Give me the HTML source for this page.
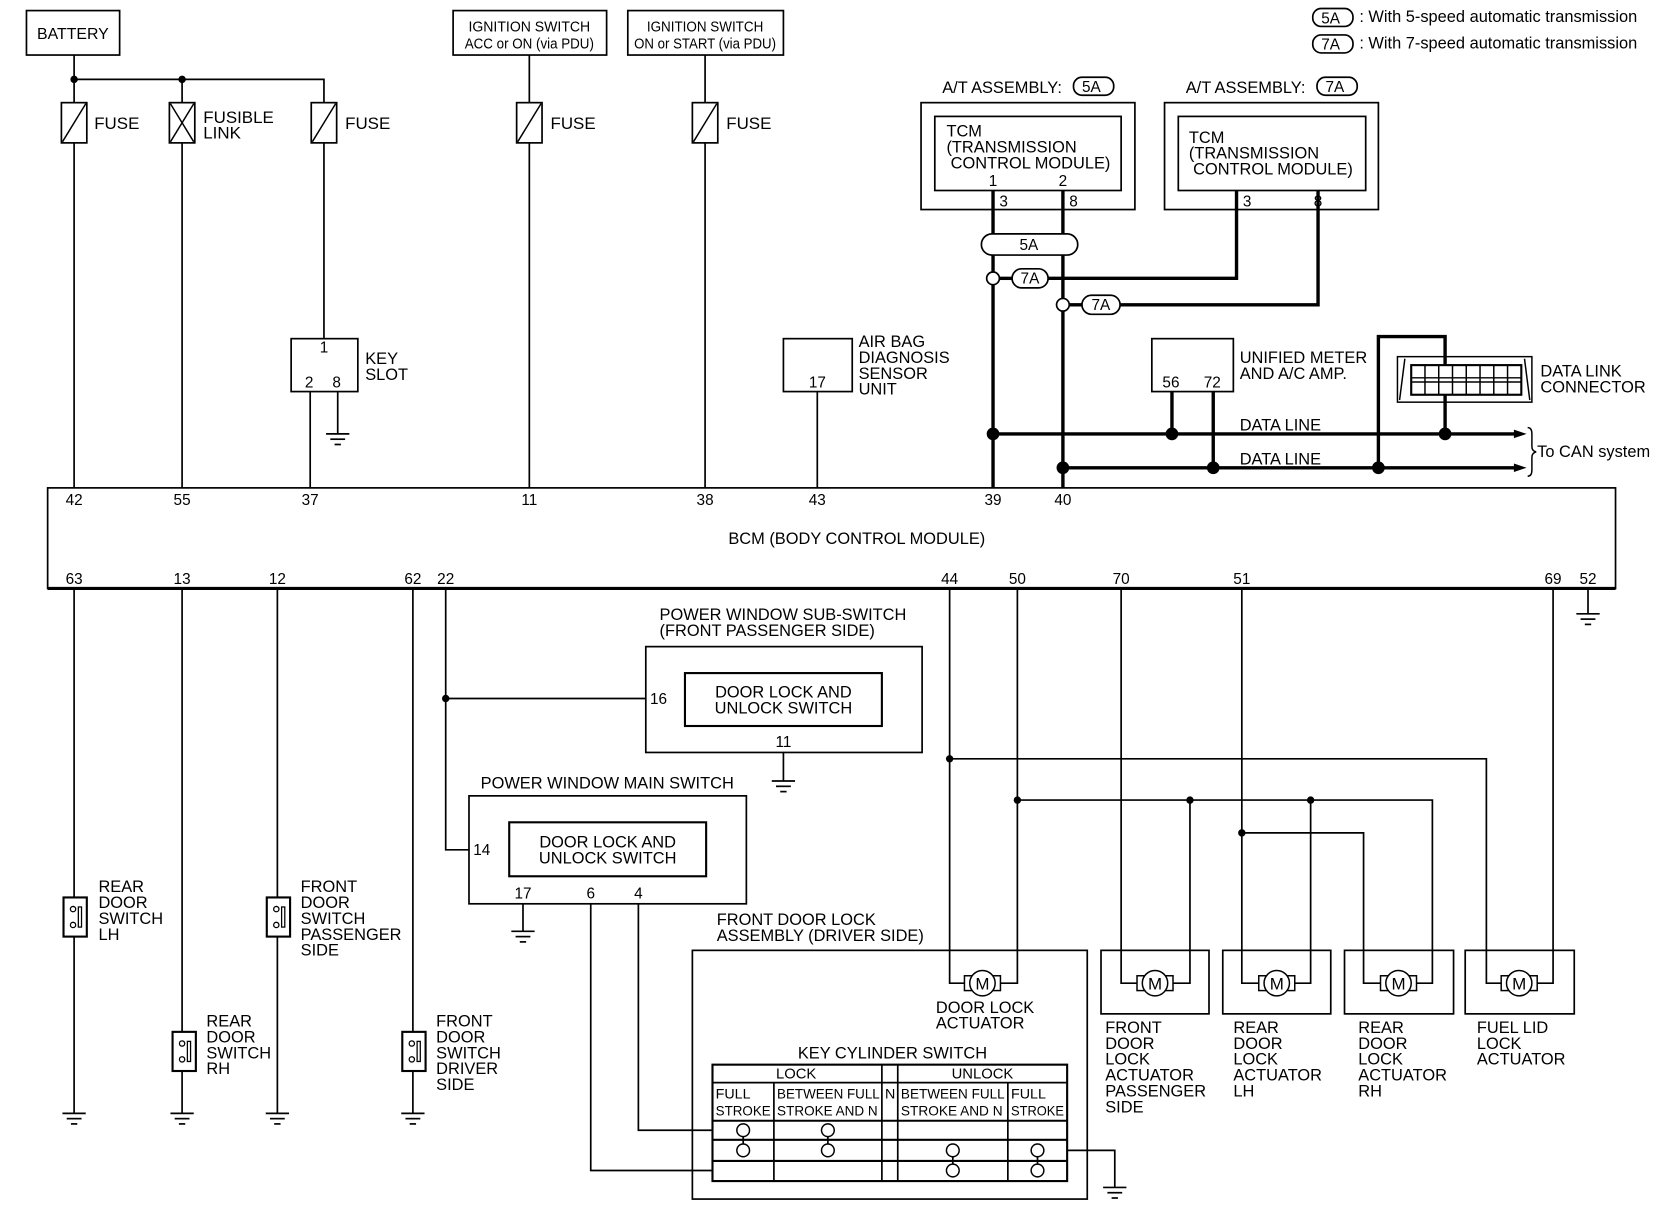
<!DOCTYPE html>
<html><head><meta charset="utf-8"><style>html,body{margin:0;padding:0;background:#fff}svg{display:block}</style></head>
<body>
<svg width="1660" height="1216" viewBox="0 0 1568 1149" preserveAspectRatio="none" xmlns="http://www.w3.org/2000/svg" font-family="Liberation Sans, sans-serif" font-size="15" fill="#000">
<defs>
<g id="fuse"><rect x="-12" y="0" width="24" height="38" fill="#fff" stroke="#000" stroke-width="1.6"/><line x1="-11" y1="37" x2="11" y2="1" stroke="#000" stroke-width="1.4"/></g>
<g id="gnd" stroke="#000" stroke-width="1.6"><line x1="-11" y1="0" x2="11" y2="0"/><line x1="-7" y1="5" x2="7" y2="5"/><line x1="-3" y1="10" x2="3" y2="10"/></g>
<g id="sw"><rect x="-11" y="0" width="22" height="37" fill="#fff" stroke="#000" stroke-width="2"/><circle cx="-2" cy="11" r="2.5" fill="#fff" stroke="#000" stroke-width="1.2"/><circle cx="-2" cy="26" r="2.5" fill="#fff" stroke="#000" stroke-width="1.2"/><rect x="3" y="9" width="3" height="19" fill="#fff" stroke="#000" stroke-width="1.2"/></g>
<g id="mot" stroke="#000" stroke-width="1.4" fill="#fff"><rect x="-17" y="-7" width="34" height="14"/><circle cx="0" cy="0" r="12"/><text x="0" y="6" font-size="16" text-anchor="middle" fill="#000" stroke="none">M</text></g>
</defs>
<g stroke="#000" stroke-width="1.6" fill="none">
<rect x="25" y="10" width="88" height="42"/>
<rect x="428" y="10" width="145" height="42"/>
<rect x="593" y="10" width="147" height="42"/>
<line x1="70" y1="52" x2="70" y2="461"/>
<polyline points="70,75 306,75 306,320"/>
<line x1="172" y1="75" x2="172" y2="461"/>
<line x1="500" y1="52" x2="500" y2="461"/>
<line x1="666" y1="52" x2="666" y2="461"/>
<rect x="275" y="320" width="63" height="50"/>
<line x1="293" y1="370" x2="293" y2="461"/>
<line x1="319" y1="370" x2="319" y2="410"/>
<rect x="740" y="320" width="65" height="50"/>
<line x1="772" y1="370" x2="772" y2="461"/>
<rect x="870" y="97" width="202" height="101"/>
<rect x="883" y="110" width="176" height="70"/>
<rect x="1100" y="97" width="202" height="101"/>
<rect x="1113" y="110" width="177" height="70"/>
<rect x="1088" y="320" width="77" height="50"/>
<rect x="45" y="461" width="1481" height="95"/>
</g>
<line x1="45" y1="556" x2="1526" y2="556" stroke="#000" stroke-width="3"/>
<g stroke="#000" stroke-width="3.2" fill="none">
<line x1="938" y1="180" x2="938" y2="461"/>
<line x1="1004" y1="180" x2="1004" y2="461"/>
<polyline points="990,263 1168,263 1168,180"/>
<polyline points="1058,288 1245,288 1245,180"/>
<line x1="944" y1="263" x2="956" y2="263"/>
<line x1="1010" y1="288" x2="1022" y2="288"/>
<line x1="938" y1="410" x2="1432" y2="410"/>
<line x1="1004" y1="442" x2="1432" y2="442"/>
<line x1="1107" y1="370" x2="1107" y2="410"/>
<line x1="1146" y1="370" x2="1146" y2="442"/>
<polyline points="1302,442 1302,318 1365,318 1365,345"/>
<line x1="1365" y1="373" x2="1365" y2="410"/>
</g>
<g fill="#000"><polygon points="1442,410 1430,406 1430,414"/><polygon points="1442,442 1430,438 1430,446"/>
<circle cx="938" cy="410" r="6"/><circle cx="1107" cy="410" r="6"/><circle cx="1365" cy="410" r="6"/>
<circle cx="1004" cy="442" r="6"/><circle cx="1146" cy="442" r="6"/><circle cx="1302" cy="442" r="6"/>
<circle cx="70" cy="75" r="3.5"/><circle cx="172" cy="75" r="3.5"/></g>
<g stroke="#000" stroke-width="1.6" fill="#fff">
<rect x="927" y="221" width="91" height="20" rx="10"/>
<rect x="956" y="254" width="34" height="18" rx="9"/>
<rect x="1022" y="279" width="36" height="18" rx="9"/>
<circle cx="938" cy="263" r="6"/><circle cx="1004" cy="288" r="6"/>
<rect x="1014" y="73" width="38" height="17" rx="8"/>
<rect x="1244" y="73" width="38" height="17" rx="8"/>
<rect x="1240" y="8" width="38" height="17" rx="8"/>
<rect x="1240" y="33" width="38" height="17" rx="8"/>
</g>
<g stroke="#000" stroke-width="1.4" fill="none">
<rect x="1320" y="337" width="127" height="43"/>
<line x1="1327" y1="339" x2="1322" y2="378"/><line x1="1440" y1="339" x2="1445" y2="378"/>
<rect x="1333" y="345" width="104" height="28" stroke-width="2"/>
<line x1="1333" y1="357" x2="1437" y2="357"/><line x1="1333" y1="361" x2="1437" y2="361"/>
<line x1="1346" y1="345" x2="1346" y2="373"/><line x1="1359" y1="345" x2="1359" y2="373"/><line x1="1372" y1="345" x2="1372" y2="373"/><line x1="1385" y1="345" x2="1385" y2="373"/><line x1="1398" y1="345" x2="1398" y2="373"/><line x1="1411" y1="345" x2="1411" y2="373"/><line x1="1424" y1="345" x2="1424" y2="373"/>
<path d="M1443,404 q4,0 4,6 v12 q0,4 4,5 q-4,1 -4,5 v12 q0,6 -4,6"/>
</g>
<use href="#fuse" x="70" y="97"/><use href="#fuse" x="306" y="97"/><use href="#fuse" x="500" y="97"/><use href="#fuse" x="666" y="97"/>
<g><rect x="160" y="97" width="24" height="38" fill="#fff" stroke="#000" stroke-width="1.6"/><line x1="161" y1="98" x2="183" y2="134" stroke="#000" stroke-width="1.4"/><line x1="183" y1="98" x2="161" y2="134" stroke="#000" stroke-width="1.4"/></g>
<use href="#gnd" x="319" y="410"/>
<g stroke="#000" stroke-width="1.6" fill="none">
<line x1="70" y1="556" x2="70" y2="1052"/>
<line x1="172" y1="556" x2="172" y2="1052"/>
<line x1="262" y1="556" x2="262" y2="1052"/>
<line x1="390" y1="556" x2="390" y2="1052"/>
<polyline points="421,556 421,803 443,803"/>
<line x1="421" y1="660" x2="610" y2="660"/>
<line x1="1500" y1="556" x2="1500" y2="580"/>
<rect x="610" y="611" width="261" height="100"/>
<rect x="647" y="636" width="186" height="50" stroke-width="2"/>
<line x1="740" y1="711" x2="740" y2="738"/>
<rect x="443" y="752" width="262" height="102"/>
<rect x="481" y="777" width="186" height="51" stroke-width="2"/>
<line x1="494" y1="854" x2="494" y2="880"/>
<polyline points="603,854 603,1068 673,1068"/>
<polyline points="558,854 558,1106 673,1106"/>
<polyline points="1008,1087 1053,1087 1053,1122"/>
<rect x="654" y="898" width="373" height="235"/>
<polyline points="897,556 897,929 911,929"/>
<polyline points="961,556 961,929 945,929"/>
<polyline points="897,717 1404,717 1404,929 1418,929"/>
<polyline points="961,756 1353,756 1353,929 1338,929"/>
<polyline points="1124,756 1124,929 1108,929"/>
<polyline points="1238,756 1238,929 1223,929"/>
<polyline points="1059,556 1059,929 1074,929"/>
<polyline points="1173,556 1173,929 1189,929"/>
<polyline points="1173,787 1288,787 1288,929 1304,929"/>
<polyline points="1467,556 1467,929 1452,929"/>
<rect x="1040" y="898" width="102" height="60"/>
<rect x="1155" y="898" width="102" height="60"/>
<rect x="1270" y="898" width="103" height="60"/>
<rect x="1384" y="898" width="103" height="60"/>
<rect x="673" y="1006" width="335" height="110" stroke-width="2"/>
<line x1="673" y1="1023" x2="1008" y2="1023"/>
<line x1="673" y1="1059" x2="1008" y2="1059" stroke-width="2"/>
<line x1="673" y1="1077" x2="1008" y2="1077" stroke-width="2"/>
<line x1="673" y1="1097" x2="1008" y2="1097" stroke-width="2"/>
<line x1="731" y1="1023" x2="731" y2="1116"/>
<line x1="833" y1="1006" x2="833" y2="1116"/>
<line x1="848" y1="1006" x2="848" y2="1116"/>
<line x1="952" y1="1023" x2="952" y2="1116"/>
<line x1="702" y1="1068" x2="702" y2="1087"/><line x1="782" y1="1068" x2="782" y2="1087"/>
<line x1="900" y1="1087" x2="900" y2="1106"/><line x1="980" y1="1087" x2="980" y2="1106"/>
</g>
<g stroke="#000" stroke-width="1.4" fill="#fff">
<circle cx="702" cy="1068" r="6"/><circle cx="702" cy="1087" r="6"/>
<circle cx="782" cy="1068" r="6"/><circle cx="782" cy="1087" r="6"/>
<circle cx="900" cy="1087" r="6"/><circle cx="900" cy="1106" r="6"/>
<circle cx="980" cy="1087" r="6"/><circle cx="980" cy="1106" r="6"/>
</g>
<g fill="#000"><circle cx="421" cy="660" r="3.5"/><circle cx="897" cy="717" r="3.5"/><circle cx="961" cy="756" r="3.5"/><circle cx="1124" cy="756" r="3.5"/><circle cx="1238" cy="756" r="3.5"/><circle cx="1173" cy="787" r="3.5"/></g>
<use href="#mot" x="928" y="929"/><use href="#mot" x="1091" y="929"/><use href="#mot" x="1206" y="929"/><use href="#mot" x="1321" y="929"/><use href="#mot" x="1435" y="929"/>
<use href="#sw" x="71" y="848"/><use href="#sw" x="174" y="975"/><use href="#sw" x="263" y="848"/><use href="#sw" x="391" y="975"/>
<use href="#gnd" x="70" y="1052"/><use href="#gnd" x="172" y="1052"/><use href="#gnd" x="262" y="1052"/><use href="#gnd" x="390" y="1052"/>
<use href="#gnd" x="1500" y="580"/><use href="#gnd" x="740" y="738"/><use href="#gnd" x="494" y="880"/><use href="#gnd" x="1053" y="1122"/>
<text x="35" y="37">BATTERY</text>
<g font-size="14" text-anchor="middle"><text x="500" y="30" textLength="115" lengthAdjust="spacingAndGlyphs">IGNITION SWITCH</text><text x="500" y="46" textLength="122" lengthAdjust="spacingAndGlyphs">ACC or ON (via PDU)</text>
<text x="666" y="30" textLength="110" lengthAdjust="spacingAndGlyphs">IGNITION SWITCH</text><text x="666" y="46" textLength="134" lengthAdjust="spacingAndGlyphs">ON or START (via PDU)</text></g>
<g font-size="16"><text x="89" y="122">FUSE</text><text x="192" y="116">FUSIBLE</text><text x="192" y="131">LINK</text><text x="326" y="122">FUSE</text><text x="520" y="122">FUSE</text><text x="686" y="122">FUSE</text></g>
<g font-size="15.5"><text x="345" y="344">KEY</text><text x="345" y="359">SLOT</text>
<text x="811" y="328">AIR BAG</text><text x="811" y="343">DIAGNOSIS</text><text x="811" y="358">SENSOR</text><text x="811" y="373">UNIT</text>
<text x="890" y="88">A/T ASSEMBLY:</text><text x="1120" y="88">A/T ASSEMBLY:</text>
<text x="1284" y="21">: With 5-speed automatic transmission</text><text x="1284" y="46">: With 7-speed automatic transmission</text>
<text x="894" y="129">TCM</text><text x="894" y="144">(TRANSMISSION</text><text x="898" y="159">CONTROL MODULE)</text>
<text x="1123" y="135">TCM</text><text x="1123" y="150">(TRANSMISSION</text><text x="1127" y="165">CONTROL MODULE)</text>
<text x="1171" y="343">UNIFIED METER</text><text x="1171" y="358">AND A/C AMP.</text>
<text x="1455" y="356">DATA LINK</text><text x="1455" y="371">CONNECTOR</text>
<text x="1171" y="407">DATA LINE</text><text x="1171" y="439">DATA LINE</text><text x="1452" y="432">To CAN system</text>
<text x="688" y="514">BCM (BODY CONTROL MODULE)</text>
</g>
<g font-size="14.5"><text x="302" y="333">1</text><text x="288" y="366">2</text><text x="314" y="366">8</text><text x="764" y="366">17</text>
<text x="1022" y="87">5A</text><text x="1252" y="87">7A</text><text x="1248" y="22">5A</text><text x="1248" y="47">7A</text>
<text x="934" y="176">1</text><text x="1000" y="176">2</text><text x="944" y="195">3</text><text x="1010" y="195">8</text><text x="1174" y="195">3</text><text x="1241" y="195">8</text>
<text x="963" y="236">5A</text><text x="964" y="268">7A</text><text x="1031" y="293">7A</text>
<text x="1098" y="366">56</text><text x="1137" y="366">72</text></g>
<g font-size="14.5" text-anchor="middle">
<text x="70" y="477">42</text><text x="172" y="477">55</text><text x="293" y="477">37</text><text x="500" y="477">11</text><text x="666" y="477">38</text><text x="772" y="477">43</text><text x="938" y="477">39</text><text x="1004" y="477">40</text>
<text x="70" y="552">63</text><text x="172" y="552">13</text><text x="262" y="552">12</text><text x="390" y="552">62</text><text x="421" y="552">22</text><text x="897" y="552">44</text><text x="961" y="552">50</text><text x="1059" y="552">70</text><text x="1173" y="552">51</text><text x="1467" y="552">69</text><text x="1500" y="552">52</text>
<text x="740" y="706">11</text><text x="494" y="849">17</text><text x="558" y="849">6</text><text x="603" y="849">4</text>
</g>
<g font-size="15.5" text-anchor="middle">
<text x="740" y="659">DOOR LOCK AND</text><text x="740" y="674">UNLOCK SWITCH</text>
<text x="574" y="801">DOOR LOCK AND</text><text x="574" y="816">UNLOCK SWITCH</text>
<text x="843" y="1000">KEY CYLINDER SWITCH</text>
<text x="752" y="1019" font-size="14">LOCK</text><text x="928" y="1019" font-size="14">UNLOCK</text>
</g>
<g font-size="15.5">
<text x="614" y="665" font-size="14.5">16</text><text x="447" y="808" font-size="14.5">14</text>
<text x="623" y="586">POWER WINDOW SUB-SWITCH</text><text x="623" y="601">(FRONT PASSENGER SIDE)</text>
<text x="454" y="745">POWER WINDOW MAIN SWITCH</text>
<text x="677" y="874">FRONT DOOR LOCK</text><text x="677" y="889">ASSEMBLY (DRIVER SIDE)</text>
<text x="884" y="957">DOOR LOCK</text><text x="884" y="972">ACTUATOR</text>
<text x="93" y="843">REAR</text><text x="93" y="858">DOOR</text><text x="93" y="873">SWITCH</text><text x="93" y="888">LH</text>
<text x="195" y="970">REAR</text><text x="195" y="985">DOOR</text><text x="195" y="1000">SWITCH</text><text x="195" y="1015">RH</text>
<text x="284" y="843">FRONT</text><text x="284" y="858">DOOR</text><text x="284" y="873">SWITCH</text><text x="284" y="888">PASSENGER</text><text x="284" y="903">SIDE</text>
<text x="412" y="970">FRONT</text><text x="412" y="985">DOOR</text><text x="412" y="1000">SWITCH</text><text x="412" y="1015">DRIVER</text><text x="412" y="1030">SIDE</text>
<text x="1044" y="976">FRONT</text><text x="1044" y="991">DOOR</text><text x="1044" y="1006">LOCK</text><text x="1044" y="1021">ACTUATOR</text><text x="1044" y="1036">PASSENGER</text><text x="1044" y="1051">SIDE</text>
<text x="1165" y="976">REAR</text><text x="1165" y="991">DOOR</text><text x="1165" y="1006">LOCK</text><text x="1165" y="1021">ACTUATOR</text><text x="1165" y="1036">LH</text>
<text x="1283" y="976">REAR</text><text x="1283" y="991">DOOR</text><text x="1283" y="1006">LOCK</text><text x="1283" y="1021">ACTUATOR</text><text x="1283" y="1036">RH</text>
<text x="1395" y="976">FUEL LID</text><text x="1395" y="991">LOCK</text><text x="1395" y="1006">ACTUATOR</text>
</g>
<g font-size="13.5">
<text x="676" y="1038">FULL</text><text x="676" y="1054" textLength="52" lengthAdjust="spacingAndGlyphs">STROKE</text>
<text x="734" y="1038" textLength="97" lengthAdjust="spacingAndGlyphs">BETWEEN FULL</text><text x="734" y="1054" textLength="95" lengthAdjust="spacingAndGlyphs">STROKE AND N</text>
<text x="836" y="1038">N</text>
<text x="851" y="1038" textLength="98" lengthAdjust="spacingAndGlyphs">BETWEEN FULL</text><text x="851" y="1054" textLength="96" lengthAdjust="spacingAndGlyphs">STROKE AND N</text>
<text x="955" y="1038">FULL</text><text x="955" y="1054" textLength="50" lengthAdjust="spacingAndGlyphs">STROKE</text>
</g>
</svg>
</body></html>
